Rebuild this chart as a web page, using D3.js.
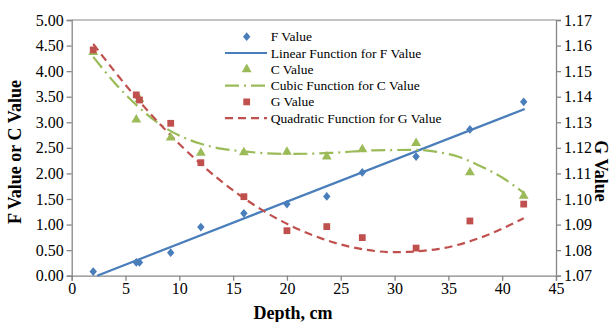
<!DOCTYPE html>
<html>
<head>
<meta charset="utf-8">
<script src="https://d3js.org/d3.v7.min.js"></script>
<style>
  body { margin: 0; background: #fff; }
  text { font-family: "Liberation Serif", "Times New Roman", serif; fill: #000; }
</style>
</head>
<body>
<div id="chart"></div>
<script>
// measured points (depth in cm)
var depth = [2, 6, 6.3, 9.2, 12, 16, 20, 23.7, 27, 32, 37, 42];
var fValue = [0.08, 0.26, 0.26, 0.45, 0.95, 1.22, 1.40, 1.55, 2.02, 2.33, 2.86, 3.40];
var cValue = [4.37, 3.05, 3.45, 2.70, 2.40, 2.41, 2.42, 2.33, 2.47, 2.59, 2.02, 1.56];
var gValue = [1.1583, 1.1407, 1.1387, 1.1296, 1.1142, 1.1009, 1.0876, 1.0892, 1.0849, 1.0808, 1.0914, 1.0980];

// trend lines
var linearX = [2.36, 42.1];
var linearY = [0, 3.26];
var cubicX = [2, 4, 6, 8, 10, 12, 14, 16, 20, 24, 28, 32, 34, 36, 38, 40, 42];
var cubicY = [4.28, 3.77, 3.34, 2.99, 2.74, 2.58, 2.48, 2.43, 2.38, 2.40, 2.45, 2.46, 2.42, 2.32, 2.14, 1.92, 1.62];
var quadX = [2, 6, 10, 14, 18, 22, 26, 30, 34, 38, 42];
var quadY = [1.1606, 1.1396, 1.1215, 1.1066, 1.0949, 1.0865, 1.0812, 1.0792, 1.0804, 1.0849, 1.0925];

var xTicks = [0, 5, 10, 15, 20, 25, 30, 35, 40, 45];
var leftTicks = [0, 0.5, 1, 1.5, 2, 2.5, 3, 3.5, 4, 4.5, 5];
var rightTicks = [1.07, 1.08, 1.09, 1.10, 1.11, 1.12, 1.13, 1.14, 1.15, 1.16, 1.17];

var legendNames = ["F Value", "Linear Function for F Value", "C Value",
                   "Cubic Function for C Value", "G Value", "Quadratic Function for G Value"];

var W = 614, H = 322;
var mLeft = 71.7, mRight = 556, mTop = 20, mBottom = 275.7;

var blue = "#4a7ebb", green = "#9bbb59", red = "#c0504d", axisCol = "#868686";

var svg = d3.select("#chart").append("svg")
    .attr("width", W).attr("height", H);

var x = d3.scaleLinear().domain([0, 45]).range([mLeft, mRight]);
var yL = d3.scaleLinear().domain([0, 5]).range([mBottom, mTop]);
var yR = d3.scaleLinear().domain([1.07, 1.17]).range([mBottom, mTop]);

// plot frame top line
svg.append("line")
    .attr("x1", mLeft).attr("x2", mRight).attr("y1", mTop).attr("y2", mTop)
    .attr("stroke", axisCol).attr("stroke-width", 1);

// axes
function styleAxis(g) {
    g.selectAll("path, line").attr("stroke", axisCol).attr("stroke-width", 1.3);
    g.selectAll("text").attr("font-size", "16px")
        .attr("font-family", "Liberation Serif, serif").attr("fill", "#000");
}

svg.append("g")
    .attr("transform", "translate(0," + mBottom + ")")
    .call(d3.axisBottom(x).tickValues(xTicks).tickSizeOuter(0).tickSize(5).tickPadding(2))
    .call(styleAxis);

svg.append("g")
    .attr("transform", "translate(" + mLeft + ",0)")
    .call(d3.axisLeft(yL).tickValues(leftTicks).tickFormat(d3.format(".2f")).tickSizeOuter(0).tickSize(5).tickPadding(3))
    .call(styleAxis);

svg.append("g")
    .attr("transform", "translate(" + mRight + ",0)")
    .call(d3.axisRight(yR).tickValues(rightTicks).tickFormat(d3.format(".2f")).tickSizeOuter(0).tickSize(5).tickPadding(3))
    .call(styleAxis);

// axis titles
svg.append("text")
    .attr("x", 293).attr("y", 319)
    .attr("text-anchor", "middle").attr("font-size", "18px").attr("font-weight", "bold")
    .text("Depth, cm");

svg.append("text")
    .attr("transform", "translate(21,152) rotate(-90)")
    .attr("text-anchor", "middle").attr("font-size", "18px").attr("font-weight", "bold")
    .text("F Value or C Value");

svg.append("text")
    .attr("transform", "translate(595,171) rotate(90)")
    .attr("text-anchor", "middle").attr("font-size", "18px").attr("font-weight", "bold")
    .text("G Value");

// custom diamond shape
var diamond = {
    draw: function(ctx, size) {
        var w = 3.7, h = 4.4;
        ctx.moveTo(0, -h); ctx.lineTo(w, 0); ctx.lineTo(0, h); ctx.lineTo(-w, 0); ctx.closePath();
    }
};

// trend lines
var lineL = d3.line().x(function(d) { return x(d[0]); }).y(function(d) { return yL(d[1]); });
var lineR = d3.line().x(function(d) { return x(d[0]); }).y(function(d) { return yR(d[1]); });

svg.append("path")
    .attr("d", lineL(d3.zip(linearX, linearY)))
    .attr("fill", "none").attr("stroke", blue).attr("stroke-width", 2.2);

svg.append("path")
    .attr("d", lineL.curve(d3.curveMonotoneX)(d3.zip(cubicX, cubicY)))
    .attr("fill", "none").attr("stroke", green).attr("stroke-width", 2.2)
    .attr("stroke-dasharray", "14,5,2,5");

svg.append("path")
    .attr("d", lineR.curve(d3.curveMonotoneX)(d3.zip(quadX, quadY)))
    .attr("fill", "none").attr("stroke", red).attr("stroke-width", 2.2)
    .attr("stroke-dasharray", "8,5");

// markers
svg.append("g").selectAll("path")
    .data(d3.zip(depth, cValue)).enter().append("path")
    .attr("transform", function(d) { return "translate(" + x(d[0]) + "," + yL(d[1]) + ")"; })
    .attr("d", d3.symbol().type(d3.symbolTriangle).size(42))
    .attr("fill", green);

svg.append("g").selectAll("path")
    .data(d3.zip(depth, gValue)).enter().append("path")
    .attr("transform", function(d) { return "translate(" + x(d[0]) + "," + yR(d[1]) + ")"; })
    .attr("d", d3.symbol().type(d3.symbolSquare).size(46))
    .attr("fill", red);

svg.append("g").selectAll("path")
    .data(d3.zip(depth, fValue)).enter().append("path")
    .attr("transform", function(d) { return "translate(" + x(d[0]) + "," + yL(d[1]) + ")"; })
    .attr("d", d3.symbol().type(diamond))
    .attr("fill", blue);

// legend
var legY = 36.7, legStep = 16.3;
var lg = svg.append("g");
legendNames.forEach(function(name, i) {
    var cy = legY + i * legStep;
    if (i == 0) {
        lg.append("path").attr("transform", "translate(246.7," + cy + ")")
            .attr("d", d3.symbol().type(diamond)).attr("fill", blue);
    } else if (i == 2) {
        lg.append("path").attr("transform", "translate(246.7," + cy + ")")
            .attr("d", d3.symbol().type(d3.symbolTriangle).size(42)).attr("fill", green);
    } else if (i == 4) {
        lg.append("path").attr("transform", "translate(246.7," + cy + ")")
            .attr("d", d3.symbol().type(d3.symbolSquare).size(46)).attr("fill", red);
    } else {
        var col = i == 1 ? blue : (i == 3 ? green : red);
        var dash = i == 1 ? null : (i == 3 ? "14,5,2,5" : "8,5");
        lg.append("line")
            .attr("x1", 225).attr("x2", 267).attr("y1", cy).attr("y2", cy)
            .attr("stroke", col).attr("stroke-width", 2.2)
            .attr("stroke-dasharray", dash);
    }
    lg.append("text")
        .attr("x", 270.7).attr("y", cy + 4.5)
        .attr("font-size", "13.5px")
        .text(name);
});
</script>
</body>
</html>
